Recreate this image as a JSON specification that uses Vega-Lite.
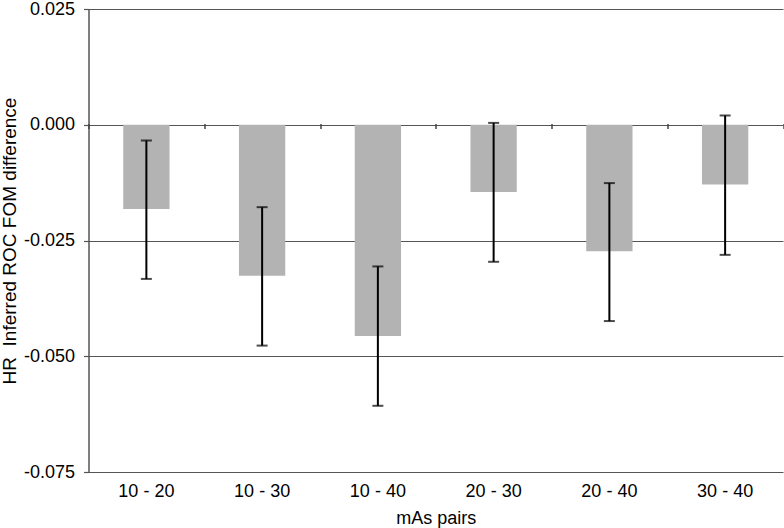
{
  "$schema": "https://vega.github.io/schema/vega-lite/v6.json",
  "autosize": "none",
  "width": 694.5,
  "height": 463,
  "padding": {"left": 88.5, "top": 9, "right": 1, "bottom": 56},
  "background": "white",
  "config": {
    "view": {"stroke": null},
    "font": "Liberation Sans",
    "axis": {"labelFont": "Liberation Sans", "titleFont": "Liberation Sans", "labelColor": "black", "titleColor": "black", "titleFontWeight": "normal"}
  },
  "data": {
    "values": [
      {"pair": "10 - 20", "value": -0.0182, "lo": -0.0333, "hi": -0.0034},
      {"pair": "10 - 30", "value": -0.0326, "lo": -0.0477, "hi": -0.0178},
      {"pair": "10 - 40", "value": -0.0456, "lo": -0.0607, "hi": -0.0306},
      {"pair": "20 - 30", "value": -0.0145, "lo": -0.0296, "hi": 0.0004},
      {"pair": "20 - 40", "value": -0.0273, "lo": -0.0424, "hi": -0.0126},
      {"pair": "30 - 40", "value": -0.0129, "lo": -0.0281, "hi": 0.0020}
    ]
  },
  "encoding": {
    "x": {
      "field": "pair", "type": "nominal", "sort": null,
      "scale": {"paddingInner": 0, "paddingOuter": 0}
    }
  },
  "layer": [
    {
      "mark": {"type": "bar", "color": "#b3b3b3", "width": {"band": 0.4}},
      "encoding": {
        "x": {
          "field": "pair", "type": "nominal", "sort": null,
          "axis": {"orient": "bottom", "title": "mAs pairs", "labelAngle": 0, "labelFontSize": 18, "titleFontSize": 18, "ticks": false, "domain": false, "labelPadding": 10, "titlePadding": 9}
        },
        "y": {
          "field": "value", "type": "quantitative",
          "scale": {"domain": [-0.075, 0.025], "nice": false},
          "axis": {
            "title": "HR\u00a0\u00a0Inferred ROC FOM difference",
            "values": [-0.075, -0.05, -0.025, 0, 0.025],
            "labelExpr": "replace(format(datum.value, '.3f'), '\u2212', '-')",
            "grid": true, "gridColor": "#555555", "gridWidth": 1.2, "gridOpacity": 1,
            "domainColor": "#555555", "domainWidth": 1.5,
            "tickColor": "#555555", "tickSize": 5, "tickWidth": 1.2,
            "labelFontSize": 18, "titleFontSize": 19, "labelPadding": 9, "titlePadding": 4
          }
        }
      }
    },
    {
      "mark": {"type": "rule", "color": "black", "strokeWidth": 2},
      "encoding": {
        "x": {
          "field": "pair", "type": "nominal", "sort": null,
          "axis": {"orient": "bottom", "offset": -348.5, "labels": false, "title": null, "domain": false, "ticks": true, "tickBand": "extent", "tickExtra": true, "tickSize": 5, "tickColor": "#444444", "tickWidth": 1.5, "grid": false, "zindex": 1}
        },
        "y": {"field": "lo", "type": "quantitative"},
        "y2": {"field": "hi"}
      }
    },
    {
      "mark": {"type": "tick", "color": "black", "thickness": 2, "size": 11, "orient": "horizontal"},
      "encoding": {"x": {"field": "pair", "type": "nominal", "sort": null, "axis": null}, "y": {"field": "lo", "type": "quantitative"}}
    },
    {
      "mark": {"type": "tick", "color": "black", "thickness": 2, "size": 11, "orient": "horizontal"},
      "encoding": {"x": {"field": "pair", "type": "nominal", "sort": null, "axis": null}, "y": {"field": "hi", "type": "quantitative"}}
    }
  ],
  "resolve": {"axis": {"x": "independent"}}
}
